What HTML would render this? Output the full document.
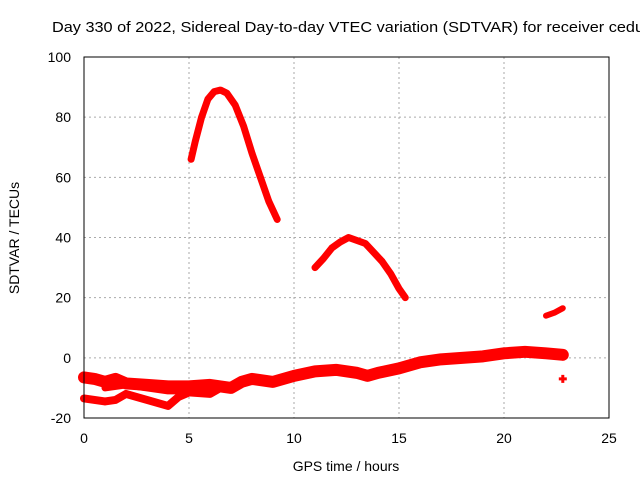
<!DOCTYPE html>
<html><head><meta charset="utf-8"><style>
body{margin:0;background:#fff}
svg{display:block;font-family:"Liberation Sans",sans-serif}
</style></head><body>
<svg id="chart" width="640" height="480">
<text x="52" y="32" font-size="15" textLength="592" lengthAdjust="spacingAndGlyphs">Day 330 of 2022, Sidereal Day-to-day VTEC variation (SDTVAR) for receiver cedu</text>
<text x="346" y="471" font-size="14" text-anchor="middle">GPS time / hours</text>
<text transform="translate(19,238) rotate(-90)" font-size="14" text-anchor="middle">SDTVAR / TECUs</text>
<g id="grid"></g><g id="data"></g>
<rect x="84" y="57" width="525" height="361" fill="none" stroke="#000"/>
</svg>
<script>
const xTicks=[0,5,10,15,20,25];
const yTicks=[-20,0,20,40,60,80,100];
const arc1X=[5.1,5.3,5.6,5.9,6.2,6.5,6.8,7.2,7.6,8.0,8.4,8.8,9.2];
const arc1Y=[66,72,80,86,88.5,89,88,84,77,68,60,52,46];
const arc2X=[11.0,11.4,11.8,12.2,12.6,13.0,13.4,13.8,14.2,14.6,15.0,15.3];
const arc2Y=[30,33,36.5,38.5,40,39,38,35,32,28,23,20];
const arc3X=[22.0,22.4,22.8];
const arc3Y=[14,15,16.5];
const upperX=[0,0.5,1,1.5,2,3,4,5,6,7,7.5,8,9,10,11,12,13,13.5,14,15,16,17,18,19,20,21,22,22.8];
const upperY=[-6.5,-7,-8,-7,-8.5,-9,-9.5,-9.5,-9,-10,-8,-7,-8,-6,-4.5,-4,-5,-6,-5,-3.5,-1.5,-0.5,0,0.5,1.5,2,1.5,1];
const lowerX=[0,1,1.5,2,3,4,4.5,5,6,6.5,7];
const lowerY=[-13.5,-14.5,-14,-12,-14,-16,-13,-11.5,-12,-10,-10];
const midX=[1,2,3,4,5,6];
const midY=[-10,-9,-10,-11,-11,-10];
const ptX=[22.8];const ptY=[-7];
const X=v=>84+v*21, Y=v=>418-(v+20)*361/120;
const NS="http://www.w3.org/2000/svg";
const grid=document.getElementById('grid'),data=document.getElementById('data');
function mk(t,a,p){const e=document.createElementNS(NS,t);for(const k in a)e.setAttribute(k,a[k]);p.appendChild(e);return e;}
xTicks.forEach(t=>{
 if(t>0&&t<25){const l=mk('line',{x1:X(t),x2:X(t),y1:57,y2:418,stroke:'#aaa','stroke-dasharray':'2,3'},grid);
 }
 const tx=mk('text',{x:X(t),y:443,'font-size':14,'text-anchor':'middle'},grid);tx.textContent=t;
 
});
yTicks.forEach(t=>{
 if(t>-20&&t<100){const l=mk('line',{x1:84,x2:609,y1:Y(t),y2:Y(t),stroke:'#aaa','stroke-dasharray':'2,3'},grid);
 }
 const tx=mk('text',{x:71,y:Y(t)+5,'font-size':14,'text-anchor':'end'},grid);tx.textContent=t;
 
});
function series(xs,ys,w,name){
 const p=mk('polyline',{points:xs.map((x,i)=>X(x)+','+Y(ys[i])).join(' '),fill:'none',stroke:'#f00','stroke-width':w,'stroke-linejoin':'round','stroke-linecap':'round'},data);
 
}
series(arc1X,arc1Y,7,'series-arc-1');
series(arc2X,arc2Y,7,'series-arc-2');
series(arc3X,arc3Y,6,'series-arc-3');
series(upperX,upperY,12,'series-upper-band');
series(lowerX,lowerY,8,'series-lower-band');
series(midX,midY,7,'series-mid-band');
ptX.forEach((x,i)=>{
 const g=mk('path',{d:`M${X(x)-4},${Y(ptY[i])}h8M${X(x)},${Y(ptY[i])-4}v8`,stroke:'#f00','stroke-width':3},data);
 
});
</script>
</body></html>
